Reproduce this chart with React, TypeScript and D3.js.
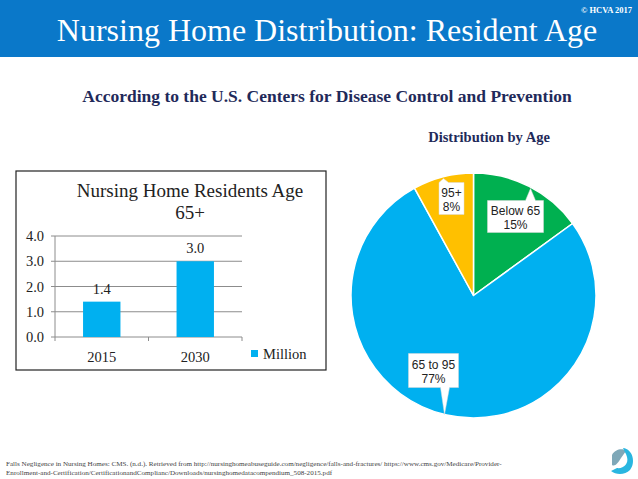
import React, { useEffect, useRef } from "react";
import * as d3 from "d3";

const years = ["2015", "2030"];
const residents = [1.4, 3.0];
const yTicks = [0, 1, 2, 3, 4];

const ageGroups = ["Below 65", "65 to 95", "95+"];
const agePercents = [15, 77, 8];
const ageColors = ["#00b050", "#00b0f0", "#ffc000"];

const footerLines = [
  "Falls Negligence in Nursing Homes: CMS. (n.d.). Retrieved from http://nursinghomeabuseguide.com/negligence/falls-and-fractures/ https://www.cms.gov/Medicare/Provider-",
  "Enrollment-and-Certification/CertificationandComplianc/Downloads/nursinghomedatacompendium_508-2015.pdf",
];

const serif = "'Liberation Serif', 'Times New Roman', serif";
const sans = "'Liberation Sans', Arial, sans-serif";

const App = () => {
  const svgRef = useRef<SVGSVGElement | null>(null);

  useEffect(() => {
    const width = 638;
    const height = 479;
    const svg = d3.select(svgRef.current).attr("width", width).attr("height", height);
    svg.selectAll("*").remove();

    svg.append("rect").attr("width", width).attr("height", height).attr("fill", "white");

    // header band
    svg.append("rect").attr("width", width).attr("height", 57).attr("fill", "#0a78c9");
    svg
      .append("text")
      .attr("x", 327)
      .attr("y", 41)
      .attr("text-anchor", "middle")
      .attr("font-family", serif)
      .attr("font-size", 32)
      .attr("fill", "white")
      .text("Nursing Home Distribution: Resident Age");
    svg
      .append("text")
      .attr("x", 632)
      .attr("y", 13)
      .attr("text-anchor", "end")
      .attr("font-family", serif)
      .attr("font-weight", "bold")
      .attr("font-size", 8.5)
      .attr("fill", "white")
      .text("© HCVA 2017");

    svg
      .append("text")
      .attr("x", 327)
      .attr("y", 102)
      .attr("text-anchor", "middle")
      .attr("font-family", serif)
      .attr("font-weight", "bold")
      .attr("font-size", 17.5)
      .attr("fill", "#1f2a5a")
      .text("According to the U.S. Centers for Disease Control and Prevention");

    // ---- bar chart ----
    const box = { x: 16, y: 171, w: 310, h: 199 };
    svg
      .append("rect")
      .attr("x", box.x)
      .attr("y", box.y)
      .attr("width", box.w)
      .attr("height", box.h)
      .attr("fill", "white")
      .attr("stroke", "#222")
      .attr("stroke-width", 1.2);

    const bar = svg.append("g");
    bar
      .append("text")
      .attr("x", 190)
      .attr("y", 197)
      .attr("text-anchor", "middle")
      .attr("font-family", serif)
      .attr("font-size", 19)
      .attr("fill", "#222")
      .text("Nursing Home Residents Age");
    bar
      .append("text")
      .attr("x", 190)
      .attr("y", 219)
      .attr("text-anchor", "middle")
      .attr("font-family", serif)
      .attr("font-size", 19)
      .attr("fill", "#222")
      .text("65+");

    const x = d3.scaleBand().domain(years).range([55, 242]).paddingInner(0.6).paddingOuter(0.3);
    const y = d3.scaleLinear().domain([0, 4]).range([337, 236]);

    bar
      .append("g")
      .selectAll("line")
      .data(yTicks)
      .enter()
      .append("line")
      .attr("x1", 51)
      .attr("x2", 242)
      .attr("y1", (d) => y(d))
      .attr("y2", (d) => y(d))
      .attr("stroke", "#8c8c8c")
      .attr("stroke-width", 1);

    bar
      .append("line")
      .attr("x1", 55)
      .attr("x2", 55)
      .attr("y1", y(4))
      .attr("y2", y(0))
      .attr("stroke", "#8c8c8c");

    // x ticks at band edges
    const edges = [55, (55 + 242) / 2, 242];
    bar
      .append("g")
      .selectAll("line")
      .data(edges)
      .enter()
      .append("line")
      .attr("x1", (d) => d)
      .attr("x2", (d) => d)
      .attr("y1", y(0))
      .attr("y2", y(0) + 4)
      .attr("stroke", "#8c8c8c");

    bar
      .append("g")
      .selectAll("text")
      .data(yTicks)
      .enter()
      .append("text")
      .attr("x", 44)
      .attr("y", (d) => y(d) + 5)
      .attr("text-anchor", "end")
      .attr("font-family", serif)
      .attr("font-size", 14.5)
      .attr("fill", "#222")
      .text((d) => d3.format(".1f")(d));

    bar
      .append("g")
      .selectAll("rect")
      .data(residents)
      .enter()
      .append("rect")
      .attr("x", (d, i) => x(years[i]) || 0)
      .attr("y", (d) => y(d))
      .attr("width", x.bandwidth())
      .attr("height", (d) => y(0) - y(d))
      .attr("fill", "#00b0f0");

    bar
      .append("g")
      .selectAll("text")
      .data(residents)
      .enter()
      .append("text")
      .attr("x", (d, i) => (x(years[i]) || 0) + x.bandwidth() / 2)
      .attr("y", (d) => y(d) - 8)
      .attr("text-anchor", "middle")
      .attr("font-family", serif)
      .attr("font-size", 14.5)
      .attr("fill", "#222")
      .text((d) => d3.format(".1f")(d));

    bar
      .append("g")
      .selectAll("text")
      .data(years)
      .enter()
      .append("text")
      .attr("x", (d) => (x(d) || 0) + x.bandwidth() / 2)
      .attr("y", 362)
      .attr("text-anchor", "middle")
      .attr("font-family", serif)
      .attr("font-size", 14.5)
      .attr("fill", "#222")
      .text((d) => d);

    bar
      .append("rect")
      .attr("x", 251)
      .attr("y", 350)
      .attr("width", 7)
      .attr("height", 7)
      .attr("fill", "#00b0f0");
    bar
      .append("text")
      .attr("x", 263)
      .attr("y", 359)
      .attr("font-family", serif)
      .attr("font-size", 14.5)
      .attr("fill", "#222")
      .text("Million");

    // ---- pie chart ----
    svg
      .append("text")
      .attr("x", 489)
      .attr("y", 142)
      .attr("text-anchor", "middle")
      .attr("font-family", serif)
      .attr("font-weight", "bold")
      .attr("font-size", 14.5)
      .attr("fill", "#1f2a5a")
      .text("Distribution by Age");

    const cx = 473.5;
    const cy = 295.5;
    const r = 122.5;
    const pie = d3.pie<number>().sort(null)(agePercents);
    const arc = d3.arc<d3.PieArcDatum<number>>().innerRadius(0).outerRadius(r);
    const pg = svg.append("g").attr("transform", `translate(${cx},${cy})`);
    pg.selectAll("path")
      .data(pie)
      .enter()
      .append("path")
      .attr("d", arc)
      .attr("fill", (d, i) => ageColors[i])
      .attr("stroke", "white")
      .attr("stroke-width", 1.5);

    // callout boxes, relative to the pie centre
    const callouts = [
      { bx: 42, by: -79, w: 56, h: 32, tx: 57, ty: -107, up: true },
      { bx: -40, by: 75, w: 50, h: 34, tx: -29, ty: 119, up: false },
      { bx: -22, by: -97, w: 25, h: 32, tx: -30, ty: -117, up: true },
    ];
    callouts.forEach((c, i) => {
      const left = c.bx - c.w / 2;
      const right = c.bx + c.w / 2;
      const top = c.by - c.h / 2;
      const bottom = c.by + c.h / 2;
      const pts: [number, number][] = c.up
        ? [
            [left, top],
            [c.tx - 5 < left ? left : c.tx - 5, top],
            [c.tx, c.ty],
            [Math.min(c.tx + 5, right), top],
            [right, top],
            [right, bottom],
            [left, bottom],
          ]
        : [
            [left, top],
            [right, top],
            [right, bottom],
            [c.tx + 5, bottom],
            [c.tx, c.ty],
            [c.tx - 4, bottom],
            [left, bottom],
          ];
      pg.append("path")
        .attr("d", d3.line()(pts) + "Z")
        .attr("fill", "white")
        .attr("stroke", "#d9d9d9")
        .attr("stroke-width", 0.5);
      const t = pg
        .append("text")
        .attr("text-anchor", "middle")
        .attr("font-family", sans)
        .attr("font-size", 12)
        .attr("fill", "#222");
      t.append("tspan").attr("x", c.bx).attr("y", c.by - 2).text(ageGroups[i]);
      t.append("tspan").attr("x", c.bx).attr("y", c.by + 12).text(agePercents[i] + "%");
    });

    // ---- footer ----
    svg
      .append("g")
      .selectAll("text")
      .data(footerLines)
      .enter()
      .append("text")
      .attr("x", 6)
      .attr("y", (d, i) => 466 + i * 8.5)
      .attr("font-family", serif)
      .attr("font-size", 7.1)
      .attr("fill", "#444")
      .text((d) => d);

    // logo
    const logo = svg.append("g").attr("transform", "translate(621,461)");
    logo
      .append("path")
      .attr("d", "M-9,-6 C-6,-12 2,-13 5,-10 L0,-3 C-3,2 -6,6 -9,4 Z")
      .attr("fill", "#7fa8b8");
    logo
      .append("path")
      .attr("d", "M2,-13 C12,-12 15,2 9,9 C4,14 -5,14 -10,10 L-4,7 C2,8 8,3 6,-4 C5,-8 3,-10 2,-13 Z")
      .attr("fill", "#29b6e0");
  }, []);

  return (
    <div style={{ position: "fixed", left: 0, top: 0 }}>
      <svg ref={svgRef} style={{ display: "block" }}></svg>
    </div>
  );
};

export default App;
